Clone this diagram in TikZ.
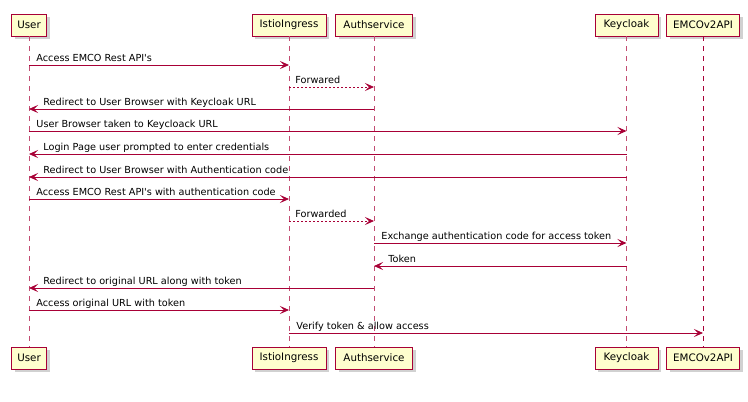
\documentclass[tikz,border=0pt]{standalone}
\usepackage{fontspec}
\setmainfont{DejaVu Sans}[Ligatures=TeXOff]
\usetikzlibrary{arrows.meta,shadows}
\definecolor{umlred}{HTML}{A80036}
\definecolor{umlfill}{HTML}{FEFECE}
\tikzset{
	actor/.style={draw=umlred, fill=umlfill, line width=0.9pt, minimum height=22pt, inner sep=0pt,
		font=\fontsize{10.3}{12}\selectfont,
		drop shadow={shadow xshift=3pt, shadow yshift=-3pt, fill=black, opacity=0.18}},
	life/.style={draw=umlred!70, line width=0.6pt, dash pattern=on 5pt off 5pt},
	msg/.style={draw=umlred, line width=0.8pt, -{Stealth[length=9pt,width=8pt,inset=4pt]}},
	reply/.style={msg, dash pattern=on 2pt off 2pt},
	lbl/.style={anchor=base west, inner sep=0pt, font=\fontsize{9.7}{11}\selectfont, yshift=3.7pt}
}
\begin{document}
\begin{tikzpicture}[x=1pt, y=-1pt]
	\useasboundingbox (0,0) rectangle (748,402);
	
	% participants, top and bottom
	\node[actor, minimum width=35pt] (user)  at (29,25)    {User};
	\node[actor, minimum width=74pt] (istio) at (289,25)   {IstioIngress};
	\node[actor, minimum width=77pt] (auth)  at (374,25)   {Authservice};
	\node[actor, minimum width=63pt] (kc)    at (626.5,25) {Keycloak};
	\node[actor, minimum width=73pt] (api)   at (703,25)   {EMCOv2API};
	
	\node[actor, minimum width=35pt] (userB)  at (29,358)    {User};
	\node[actor, minimum width=74pt] (istioB) at (289,358)   {IstioIngress};
	\node[actor, minimum width=77pt] (authB)  at (374,358)   {Authservice};
	\node[actor, minimum width=63pt] (kcB)    at (626.5,358) {Keycloak};
	\node[actor, minimum width=73pt] (apiB)   at (703,358)   {EMCOv2API};
	
	% lifelines
	\draw[life] (user) -- (userB);
	\draw[life] (istio) -- (istioB);
	\draw[life] (auth) -- (authB);
	\draw[life] (kc) -- (kcB);
	\draw[life, draw=umlred] (api) -- (apiB);
	
	% messages
	\draw[msg] (user |- 0,65) -- (istio |- 0,65) node[lbl, pos=0, xshift=7pt] {Access EMCO Rest API's};
	\draw[reply] (istio |- 0,87) -- (auth |- 0,87) node[lbl, pos=0, xshift=6pt] {Forwared};
	\draw[msg] (auth |- 0,109) -- (user |- 0,109) node[lbl, pos=1, xshift=14pt] {Redirect to User Browser with Keycloak URL};
	\draw[msg] (user |- 0,131) -- (kc |- 0,131) node[lbl, pos=0, xshift=7pt] {User Browser taken to Keycloack URL};
	\draw[msg] (kc |- 0,154) -- (user |- 0,154) node[lbl, pos=1, xshift=14pt] {Login Page user prompted to enter credentials};
	\draw[msg] (kc |- 0,177) -- (user |- 0,177) node[lbl, pos=1, xshift=14pt] {Redirect to User Browser with Authentication code};
	\draw[msg] (user |- 0,199) -- (istio |- 0,199) node[lbl, pos=0, xshift=7pt] {Access EMCO Rest API's with authentication code};
	\draw[reply] (istio |- 0,221) -- (auth |- 0,221) node[lbl, pos=0, xshift=6pt] {Forwarded};
	\draw[msg] (auth |- 0,243) -- (kc |- 0,243) node[lbl, pos=0, xshift=7pt] {Exchange authentication code for access token};
	\draw[msg] (kc |- 0,266) -- (auth |- 0,266) node[lbl, pos=1, xshift=14pt] {Token};
	\draw[msg] (auth |- 0,288) -- (user |- 0,288) node[lbl, pos=1, xshift=14pt] {Redirect to original URL along with token};
	\draw[msg] (user |- 0,310) -- (istio |- 0,310) node[lbl, pos=0, xshift=7pt] {Access original URL with token};
	\draw[msg] (istio |- 0,333) -- (api |- 0,333) node[lbl, pos=0, xshift=7pt] {Verify token \& allow access};
\end{tikzpicture}
\end{document}
